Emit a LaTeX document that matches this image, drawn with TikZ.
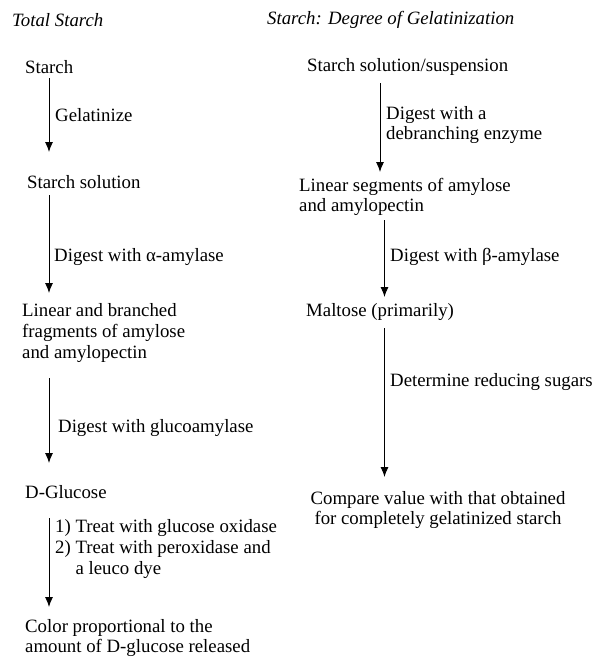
\documentclass[tikz,border=0pt]{standalone}
\usepackage{fontspec}
\setmainfont{LiberationSerif}[Extension=.ttf, UprightFont=*-Regular, ItalicFont=*-Italic, BoldFont=*-Bold, BoldItalicFont=*-BoldItalic]
\usetikzlibrary{arrows.meta}
\begin{document}
\begin{tikzpicture}[>={Latex[length=10pt,width=8pt]}, x=1pt, y=-1pt,
    every node/.style={font=\fontsize{18.8}{20.6}\selectfont, inner sep=0pt, anchor=west, align=left},
    head/.style={font=\fontsize{18.8}{20.6}\selectfont\itshape}]
    \useasboundingbox (0,0) rectangle (595,657);
    % Total starch
    \node[head] (tothead) at (12,20) {Total Starch};
    \node (starch) at (25,67) {Starch};
    \node (sol) at (27,182) {Starch solution};
    \node (frag) at (22,333) {Linear and branched\\fragments of amylose\\and amylopectin};
    \node (glc) at (25,492) {D-Glucose};
    \node (color) at (25,638) {Color proportional to the\\amount of D-glucose released};
    \coordinate (lx) at (49,0);
    \foreach \a/\b/\s/\e in {starch/sol/11/30, sol/frag/13/40, frag/glc/45/29, glc/color/26/31}
        \draw[->, line width=0.9pt, shorten <=\s pt, shorten >=\e pt] (\a -| lx) -- (\b -| lx);
    \node (gel) at (55,115) {Gelatinize};
    \node (alpha) at (54,257) {Digest with α-amylase};
    \node (gluco) at (58,428) {Digest with glucoamylase};
    \node (treat) at (55,549) {1) Treat with glucose oxidase\\2) Treat with peroxidase and\\\hphantom{2) }a leuco dye};
    % Degree of gelatinization
    \node[head] (gelhead) at (267,20) {Starch: Degree of Gelatinization};
    \node (susp) at (307,67) {Starch solution/suspension};
    \node (lin) at (299,197) {Linear segments of amylose\\and amylopectin};
    \node (malt) at (306,312) {Maltose (primarily)};
    \node[anchor=center, align=center] (comp) at (438,510) {Compare value with that obtained\\for completely gelatinized starch};
    \coordinate (rx) at (380,0);
    \coordinate (ry) at (384.5,0);
    \draw[->, line width=0.9pt, shorten <=16pt, shorten >=25pt] (susp -| rx) -- (lin -| rx);
    \foreach \a/\b/\s/\e in {lin/malt/23/15, malt/comp/16/33}
        \draw[->, line width=0.9pt, shorten <=\s pt, shorten >=\e pt] (\a -| ry) -- (\b -| ry);
    \node (debr) at (386,125) {Digest with a\\debranching enzyme};
    \node (beta) at (390,257) {Digest with β-amylase};
    \node (redu) at (390,382) {Determine reducing sugars};
\end{tikzpicture}
\end{document}
